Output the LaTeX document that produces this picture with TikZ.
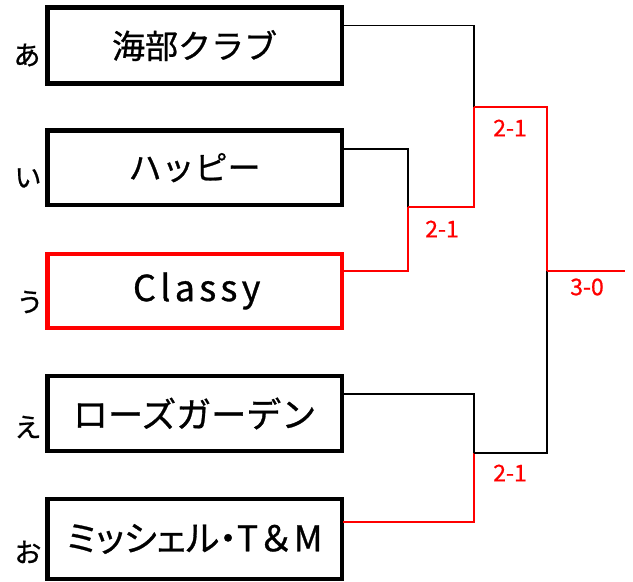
\documentclass[tikz,border=0pt]{standalone}
\usepackage{fontspec}
\setmainfont{Noto Sans CJK JP}[FakeBold=0.8]
\newfontfamily\jpp[RawFeature=+palt,FakeBold=0.8]{Noto Sans CJK JP}
\newfontfamily\jpls[LetterSpace=12,FakeBold=0.8]{Noto Sans CJK JP}
\definecolor{wred}{RGB}{255,0,0}
\begin{document}
\begin{tikzpicture}[x=1pt,y=-1pt,
  team/.style={draw=black,line width=4.6pt,inner sep=0pt,minimum width=294.5pt,
    font=\fontsize{33}{33}\selectfont},
  winbox/.style={team,draw=wred},
  lbl/.style={font=\fontsize{27}{27}\selectfont,inner sep=0pt},
  score/.style={text=wred,font=\fontsize{23}{23}\selectfont,inner sep=0pt},
  lline/.style={draw=black,line width=1.3pt},
  wline/.style={draw=wred,line width=1.3pt}]
\useasboundingbox (0,0) rectangle (633,582);
% boxes
\node[team,minimum height=76.3pt] (b1) at (194.6,45.6) {海部クラブ};
\node[team,minimum height=74.7pt] (b2) at (194.6,167.7) {ハッピー};
\node[winbox,minimum height=74pt] (b3) at (194.6,291) {\fontsize{36}{36}\jpls\kern4.3pt Classy};
\node[team,minimum height=75pt] (b4) at (194.6,413.5) {\fontsize{35}{35}\selectfont ローズガーデン};
\node[team,minimum height=80pt] (b5) at (194.6,539) {\fontsize{35.5}{35.5}\selectfont{\jpp ミッシェル・}T＆M};
% side labels
\node[lbl] (la) at (27,55) {あ};
\node[lbl] (li) at (28,178) {い};
\node[lbl] (lu) at (30,302) {う};
\node[lbl] (le) at (28,427) {え};
\node[lbl] (lo) at (28,552) {お};
% connector points
\coordinate (o1) at (343,25.7);
\coordinate (o2) at (343,149);
\coordinate (o3) at (343,271);
\coordinate (o4) at (343,394);
\coordinate (o5) at (343,522);
\coordinate (s1) at (408,207);
\coordinate (s2) at (474,107);
\coordinate (s3) at (474,453);
\coordinate (f1) at (547,271);
\coordinate (fe) at (625,271);
% first round / semis
\draw[lline] (o2) -| (s1);
\draw[wline] (o3) -| (s1);
\draw[lline] (o1) -| (s2);
\draw[wline] (s1) -| (s2);
\draw[lline] (o4) -| (s3);
\draw[wline] (o5) -| (s3);
% final
\draw[wline] (s2) -| (f1);
\draw[lline] (s3) -| (f1);
\draw[wline] (f1) -- (fe);
% scores
\node[score] (sc1) at (442,229) {2-1};
\node[score] (sc2) at (510,128) {2-1};
\node[score] (sc3) at (510,473) {2-1};
\node[score] (sc4) at (587,287) {3-0};
\end{tikzpicture}
\end{document}
